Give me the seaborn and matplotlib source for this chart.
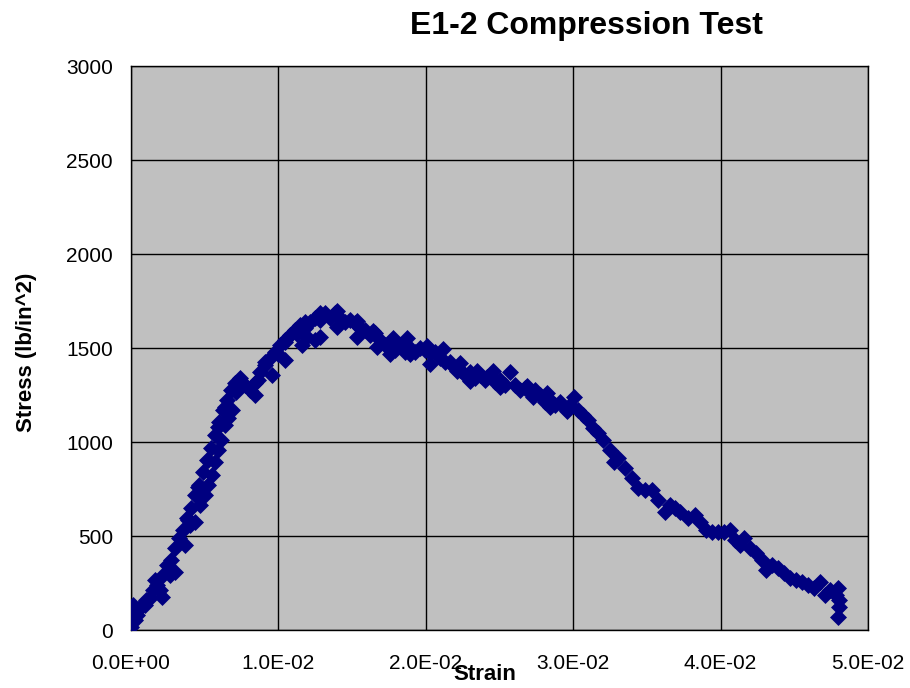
import matplotlib
matplotlib.use("Agg")
import matplotlib.pyplot as plt
import seaborn as sns
import pandas as pd
from matplotlib.ticker import FuncFormatter

# main trace of the point cloud
strain_main = [0.0, 0.00007, 0.00014, 0.00027, 0.00047, 0.00075, 0.00102, 0.00129, 0.00149, 0.00176,
               0.00197, 0.00217, 0.00244, 0.00271, 0.00299, 0.00326, 0.00353, 0.0038, 0.00407, 0.00434,
               0.00461, 0.00488, 0.00516, 0.00543, 0.0057, 0.00597, 0.00624, 0.00651, 0.00678, 0.00706,
               0.00739, 0.00773, 0.00807, 0.00841, 0.00875, 0.00909, 0.00943, 0.00977, 0.01011, 0.01045,
               0.01079, 0.01113, 0.01147, 0.0118, 0.01214, 0.01248, 0.01282, 0.01316, 0.0135, 0.01384,
               0.01418, 0.01452, 0.01486, 0.0152, 0.01554, 0.01587, 0.01621, 0.01655, 0.01689, 0.01723,
               0.01757, 0.01791, 0.01825, 0.01859, 0.01893, 0.01927, 0.01961, 0.01995, 0.02028, 0.02062,
               0.02096, 0.0213, 0.02164, 0.02198, 0.02232, 0.02266, 0.023, 0.02334, 0.02368, 0.02402,
               0.02436, 0.02469, 0.02503, 0.02537, 0.02571, 0.02605, 0.02639, 0.02673, 0.02707, 0.02741,
               0.02775, 0.02809, 0.02843, 0.02876, 0.0291, 0.02944, 0.02978, 0.03005, 0.03032, 0.03066,
               0.031, 0.03134, 0.03168, 0.03202, 0.0325, 0.03277, 0.03304, 0.03351, 0.03399, 0.0344,
               0.03487, 0.03534, 0.03575, 0.03623, 0.03657, 0.03691, 0.03725, 0.03779, 0.03826, 0.0386,
               0.03901, 0.03942, 0.03982, 0.04023, 0.04064, 0.04098, 0.04131, 0.04158, 0.04199, 0.0424,
               0.04281, 0.04308, 0.04349, 0.04389, 0.0443, 0.04471, 0.04511, 0.04552, 0.04593, 0.04633,
               0.04674, 0.04708, 0.04742, 0.04783, 0.04796, 0.04803, 0.04803, 0.04796]
stress_main = [16, 80, 133, 53, 106, 133, 160, 170, 213, 239,
               213, 293, 346, 372, 436, 489, 532, 596, 649, 718,
               771, 840, 904, 968, 1037, 1106, 1170, 1223, 1277, 1314,
               1340, 1303, 1277, 1314, 1372, 1410, 1447, 1479, 1516, 1543,
               1569, 1596, 1622, 1606, 1638, 1660, 1649, 1686, 1660, 1686,
               1660, 1638, 1649, 1633, 1606, 1596, 1569, 1580, 1543, 1516,
               1532, 1489, 1516, 1479, 1500, 1479, 1500, 1489, 1473, 1479,
               1447, 1425, 1425, 1394, 1383, 1356, 1372, 1340, 1356, 1330,
               1356, 1319, 1330, 1303, 1372, 1303, 1277, 1287, 1266, 1277,
               1250, 1213, 1223, 1197, 1213, 1181, 1197, 1239, 1170, 1144,
               1117, 1074, 1048, 1011, 957, 894, 915, 862, 808, 755,
               745, 745, 691, 628, 665, 649, 628, 596, 612, 574,
               532, 521, 521, 521, 532, 479, 452, 489, 436, 410,
               372, 319, 346, 330, 303, 277, 266, 255, 239, 223,
               255, 186, 213, 186, 223, 160, 122, 69]

# extra readings that thicken the band (upper/lower scatter of the cloud)
strain_extra = [0.00041, 0.0021, 0.003, 0.00366, 0.00434, 0.00502, 0.0055, 0.0059, 0.00638, 0.00685,
                0.00841, 0.00957, 0.01045, 0.0116, 0.01248,
                0.00163, 0.00387, 0.00455, 0.00522, 0.0059, 0.00638, 0.00712, 0.00753, 0.00909,
                0.01045, 0.0118,
                0.01194, 0.01282, 0.01398, 0.01533, 0.01669, 0.01757, 0.01893, 0.02028, 0.02212,
                0.023, 0.02415, 0.02503, 0.02727, 0.02843, 0.02958,
                0.01282, 0.01398, 0.01533, 0.01642, 0.01777, 0.01872, 0.02008, 0.02117, 0.02232,
                0.02347, 0.02456, 0.02687, 0.02822,
                0.00095, 0.00265, 0.004, 0.00468, 0.00522, 0.0057, 0.00611, 0.00658, 0.00725,
                0.00862, 0.00995, 0.01125]
stress_extra = [80, 176, 309, 452, 574, 718, 824, 957, 1090, 1170,
                1250, 1356, 1436, 1516, 1543,
                266, 585, 761, 904, 1080, 1186, 1266, 1314, 1426,
                1532, 1638,
                1558, 1558, 1612, 1558, 1505, 1468, 1468, 1415, 1378,
                1324, 1346, 1293, 1239, 1186, 1165,
                1686, 1697, 1644, 1590, 1553, 1553, 1511, 1495, 1420,
                1378, 1378, 1298, 1261,
                133, 293, 559, 665, 771, 894, 1011, 1128, 1290,
                1330, 1470, 1575]

x_ticks = [0.0, 0.01, 0.02, 0.03, 0.04, 0.05]
y_ticks = [0, 500, 1000, 1500, 2000, 2500, 3000]

df = pd.DataFrame({"Strain": strain_main + strain_extra,
                   "Stress": stress_main + stress_extra})

sns.set_style("white")
plt.rcParams['font.family'] = ['Liberation Sans', 'DejaVu Sans']
plt.rcParams['text.color'] = 'black'

fig = plt.figure(figsize=(9.1, 6.88), dpi=100)
ax = fig.add_axes([131/910, 1-630/688, (868-131)/910, (630-66)/688])
ax.set_facecolor("#C0C0C0")

sns.scatterplot(data=df, x="Strain", y="Stress", marker="D", s=75,
                color="#000080", edgecolor="#000080", linewidth=0, ax=ax, zorder=3)

ax.set_xlim(0, 0.05)
ax.set_ylim(0, 3000)
ax.set_xticks(x_ticks)
ax.set_yticks(y_ticks)
ax.xaxis.set_major_formatter(FuncFormatter(lambda v, p: f"{v:.1E}"))
ax.grid(True, color="black", linewidth=1.0)
ax.set_axisbelow(True)
for sp in ax.spines.values():
    sp.set_color("black")
    sp.set_linewidth(1.0)
ax.tick_params(axis="x", direction="out", length=7, width=1, pad=10, labelsize=15, colors="black")
ax.tick_params(axis="y", direction="out", length=5, width=1, pad=8, labelsize=15, colors="black")
ax.set_xlabel("")
ax.set_ylabel("")

fig.text(586/910, 1-26/688, "E1-2 Compression Test", ha="center", va="center",
         fontsize=23, fontweight="bold", color="black")
fig.text(485/910, 1-675/688, "Strain", ha="center", va="center",
         fontsize=16, fontweight="bold", color="black")
fig.text(27/910, 1-352/688, "Stress (lb/in^2)", ha="center", va="center",
         rotation=90, fontsize=16, fontweight="bold", color="black")

fig.savefig("out.png", dpi=100)
